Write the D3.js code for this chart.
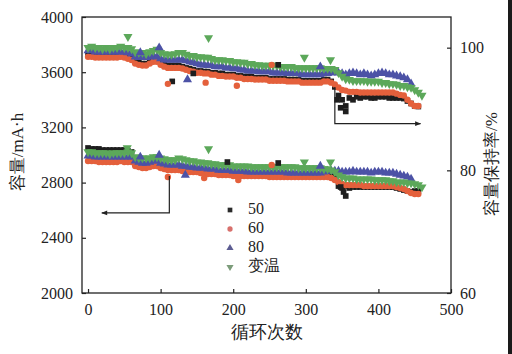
<!DOCTYPE html>
<html>
<head>
<meta charset="utf-8">
<script src="https://cdn.jsdelivr.net/npm/d3@7"></script>
<style>
  html, body { margin: 0; padding: 0; background: #fff; }
  svg { display: block; }
</style>
</head>
<body>
<svg id="chart" width="512" height="354"></svg>
<script>
// ---------------- DATA ----------------
const seriesNames = ["50", "60", "80", "变温"];
const xTicks = [0, 100, 200, 300, 400, 500];
const leftTicks = [2000, 2400, 2800, 3200, 3600, 4000];
const rightTicks = [60, 80, 100];

// cycle numbers (every 5th cycle)
const cycles = [0,5,10,15,20,25,30,35,40,45,50,55,60,65,70,75,80,85,90,95,100,105,110,115,120,125,130,135,140,145,150,155,160,165,170,175,180,185,190,195,200,205,210,215,220,225,230,235,240,245,250,255,260,265,270,275,280,285,290,295,300,305,310,315,320,325,330,335,340,345,350,355,360,365,370,375,380,385,390,395,400,405,410,415,420,425,430,435,440,445,450,455,460];

// capacity retention (%), right axis
const ret50 = [99.0,99.0,98.9,98.9,98.9,98.9,98.9,98.9,98.9,99.0,98.9,98.7,98.5,
  97.7,97.6,97.4,97.4,97.7,98.0,98.0,97.6,97.2,97.1,97.1,97.1,97.1,96.9,96.7,96.6,96.4,96.2,96.2,96.1,
  96.1,95.9,95.9,95.8,95.8,95.6,95.6,95.6,95.4,95.4,95.3,95.3,95.3,95.1,95.1,95.1,95.1,94.9,94.9,94.9,
  94.9,94.9,94.8,94.8,94.8,94.8,94.6,94.6,94.6,94.6,94.6,94.6,94.8,94.8,94.5,93.6,
  92.2,91.5,90.5,91.8,91.5,92.0,91.8,92.0,92.0,91.8,91.8,92.0,92.0,92.0,91.8,91.8,91.8,91.8,91.7,91.3,90.9,90.5,90.4];
const ret60 = [98.5,98.5,98.4,98.4,98.4,98.4,98.4,98.4,98.4,98.5,98.4,98.2,98.0,
  97.4,97.2,97.1,97.1,97.4,97.7,97.7,97.2,96.9,96.7,96.7,96.7,96.7,96.6,96.4,96.2,96.1,95.9,95.9,95.8,
  95.8,95.6,95.6,95.4,95.4,95.3,95.3,95.3,95.1,95.1,94.9,94.9,94.9,94.8,94.8,94.8,94.8,94.6,94.6,94.6,
  94.6,94.6,94.5,94.5,94.5,94.5,94.3,94.3,94.3,94.3,94.3,94.3,94.5,94.5,94.3,94.0,
  93.5,93.1,93.0,92.8,92.8,92.8,92.7,92.7,92.7,92.7,92.7,92.7,92.7,92.7,92.7,92.7,92.5,92.3,92.2,91.5,90.9,90.5,90.5];
const ret80 = [99.5,99.5,99.3,99.3,99.3,99.3,99.3,99.3,99.3,99.3,99.3,99.2,99.0,
  98.5,98.4,98.4,98.4,98.5,98.7,98.5,98.2,98.0,98.0,98.0,98.0,98.0,98.0,97.9,97.7,97.6,97.4,97.2,97.2,
  97.1,97.1,96.9,96.9,96.9,96.7,96.7,96.6,96.6,96.4,96.4,96.2,96.2,96.2,96.1,96.1,96.1,96.1,95.9,95.9,
  95.9,95.9,95.8,95.8,95.8,95.8,95.6,95.6,95.6,95.6,95.6,95.6,95.8,95.8,95.9,96.1,
  95.9,95.8,95.6,95.8,95.9,95.8,95.6,95.8,95.6,95.4,95.6,95.8,95.9,95.8,95.6,95.6,95.4,95.3,95.1,94.8,94.1];
const retVar = [100.0,100.2,100.0,100.0,99.8,100.0,99.8,100.0,100.0,100.2,100.0,100.0,99.8,
  99.3,99.2,99.2,99.0,99.3,99.5,99.7,99.2,99.0,98.9,98.9,99.0,99.2,99.2,98.9,98.7,98.7,98.5,98.5,98.4,
  98.4,98.2,98.0,98.0,98.0,97.9,97.9,97.7,97.7,97.6,97.6,97.4,97.4,97.2,97.2,97.1,97.1,97.1,97.1,97.1,
  96.9,96.9,96.9,96.9,96.7,96.7,96.7,96.7,96.7,96.7,96.7,96.7,96.6,96.6,96.6,96.4,
  95.9,95.3,94.9,94.8,94.6,94.6,94.6,94.6,94.5,94.5,94.5,94.5,94.3,94.3,94.1,94.1,94.0,93.8,93.8,93.6,93.5,93.1,92.7,92.2];

// capacity (mA·h), left axis
const cap50 = [3051,3044,3044,3044,3036,3036,3036,3036,3036,3036,3036,3029,3022,
  2935,2928,2920,2920,2928,2935,2935,2920,2913,2906,2906,2906,2906,2899,2899,2891,2891,2891,2884,2884,
  2877,2877,2877,2870,2870,2870,2870,2862,2862,2862,2862,2862,2862,2862,2862,2862,2862,2855,2855,2855,
  2855,2855,2855,2855,2855,2855,2855,2855,2855,2855,2855,2855,2855,2855,2848,2833,
  2775,2761,2775,2761,2768,2768,2768,2768,2768,2768,2768,2768,2768,2768,2768,2768,2761,2754,2746,2739,2732,2739,2739];
const cap60 = [2957,2957,2957,2949,2949,2949,2949,2949,2949,2957,2949,2949,2949,
  2920,2913,2906,2906,2913,2920,2920,2906,2899,2891,2891,2891,2891,2884,2884,2877,2877,2877,2870,2870,
  2862,2862,2862,2855,2855,2855,2855,2848,2848,2848,2848,2848,2848,2848,2848,2848,2848,2841,2841,2841,
  2841,2841,2841,2841,2841,2841,2841,2841,2841,2841,2841,2841,2841,2841,2833,2819,
  2804,2790,2783,2783,2783,2783,2783,2775,2775,2775,2775,2775,2775,2775,2775,2775,2768,2761,2754,2739,2725,2717,2717];
const cap80 = [2993,2993,2986,2986,2986,2986,2986,2986,2986,2986,2986,2986,2986,
  2957,2949,2942,2942,2949,2957,2957,2942,2935,2928,2928,2928,2928,2920,2920,2913,2913,2906,2906,2906,
  2899,2899,2899,2891,2891,2891,2891,2884,2884,2884,2884,2877,2877,2877,2877,2877,2877,2877,2877,2877,
  2877,2877,2870,2870,2870,2870,2870,2870,2870,2870,2870,2870,2877,2884,2884,2884,
  2884,2877,2877,2877,2884,2877,2877,2877,2877,2870,2877,2877,2877,2870,2870,2870,2862,2855,2848,2841,2826];
const capVar = [3022,3022,3015,3015,3015,3015,3007,3015,3015,3015,3015,3022,3015,
  2986,2978,2978,2978,2978,2986,2986,2978,2971,2964,2964,2964,2978,2971,2964,2957,2957,2949,2949,2942,
  2942,2935,2935,2928,2928,2928,2928,2920,2920,2920,2920,2920,2913,2913,2913,2913,2913,2913,2913,2913,
  2913,2913,2913,2913,2913,2906,2906,2906,2906,2906,2906,2906,2899,2899,2891,2877,
  2855,2841,2833,2833,2833,2826,2826,2826,2826,2826,2819,2819,2819,2819,2812,2812,2804,2804,2804,2797,2797,2790,2783,2768];

// scattered outlier points [cycle, value]
const ret50Extra = [[116,94.5],[145,95.8],[262,97.2],[343,91.5],[348,90.2],[355,89.6]];
const ret60Extra = [[110,94.1],[162,94.3],[205,93.8],[253,97.2]];
const ret80Extra = [[72,99.2],[98,100.0],[137,94.8],[320,96.9]];
const retVarExtra = [[55,101.8],[166,101.6],[298,98.4],[334,98.0]];
const cap50Extra = [[192,2949],[262,2942],[348,2768],[352,2732],[355,2703]];
const cap60Extra = [[110,2841],[160,2833],[207,2819],[253,2928]];
const cap80Extra = [[72,2986],[98,3000],[134,2855],[320,2920]];
const capVarExtra = [[54,3051],[166,3044],[298,2949],[334,2949]];

// annotation arrows: [cycle, value] corner points
const retArrow = [[340,93.6],[340,87.6],[458,87.6]];
const capArrow = [[112,2848],[112,2580],[19,2580]];

// ---------------- CHART ----------------
const svg = d3.select("#chart");
const W = 512, H = 354;
const L = 82, R = 451, T = 17, B = 293;
const FONT = "Liberation Serif";

const x = d3.scaleLinear().domain([-8.3, 500]).range([L, R]);
const yL = d3.scaleLinear().domain([2000, 4000]).range([B, T]);
const yR = d3.scaleLinear().domain([60, 105]).range([B, T]);

const colors = { "50": "#1e1e1e", "60": "#e4603c", "80": "#4c52a6", "变温": "#5ca85a" };
const legendColors = { "50": "#2a2a2a", "60": "#d8706c", "80": "#5c5c92", "变温": "#7c9c7a" };
const shapes = {
  "50": d3.symbol().type(d3.symbolSquare).size(32),
  "60": d3.symbol().type(d3.symbolCircle).size(32),
  "80": d3.symbol().type(d3.symbolTriangle).size(36),
  "变温": d3.symbol().type(d3.symbolTriangle).size(36)
};
const rot = name => name === "变温" ? " rotate(180)" : "";

svg.append("rect").attr("width", W).attr("height", H).attr("fill", "#fff");
svg.append("rect").attr("x", 508).attr("y", 0).attr("width", 4).attr("height", H).attr("fill", "#1a1a1a");

const plot = svg.append("g");

function drawSeries(name, vals, extra, yScale) {
  const pts = vals.map((v, i) => [cycles[i], v]).concat(extra);
  plot.append("g").selectAll("path").data(pts).join("path")
    .attr("d", shapes[name]())
    .attr("transform", d => `translate(${x(d[0])},${yScale(d[1])})${rot(name)}`)
    .attr("fill", colors[name]);
}

// draw order: 50, 60, 80, 变温
const lowerSets = [["50", cap50, cap50Extra], ["60", cap60, cap60Extra], ["80", cap80, cap80Extra], ["变温", capVar, capVarExtra]];
const upperSets = [["50", ret50, ret50Extra], ["60", ret60, ret60Extra], ["80", ret80, ret80Extra], ["变温", retVar, retVarExtra]];
lowerSets.forEach(s => drawSeries(s[0], s[1], [], yL));
upperSets.forEach(s => drawSeries(s[0], s[1], [], yR));
lowerSets.forEach(s => drawSeries(s[0], [], s[2], yL));
upperSets.forEach(s => drawSeries(s[0], [], s[2], yR));

// arrows
const defs = svg.append("defs");
defs.append("marker").attr("id", "ah").attr("viewBox", "0 0 10 10")
  .attr("refX", 9).attr("refY", 5).attr("markerWidth", 8).attr("markerHeight", 6)
  .attr("markerUnits", "userSpaceOnUse").attr("orient", "auto")
  .append("path").attr("d", "M0,1 L10,5 L0,9 Z").attr("fill", "#222");

const lineR = d3.line().x(d => x(d[0])).y(d => yR(d[1]));
const lineL = d3.line().x(d => x(d[0])).y(d => yL(d[1]));
svg.append("path").attr("d", lineR(retArrow)).attr("fill", "none").attr("stroke", "#222")
  .attr("stroke-width", 1.2).attr("marker-end", "url(#ah)");
svg.append("path").attr("d", lineL(capArrow)).attr("fill", "none").attr("stroke", "#222")
  .attr("stroke-width", 1.2).attr("marker-end", "url(#ah)");

// axes
const fmt = d3.format("d");
const gx = svg.append("g").attr("transform", `translate(0,${B})`)
  .call(d3.axisBottom(x).tickValues(xTicks).tickFormat(fmt).tickSizeInner(-4).tickSizeOuter(0).tickPadding(11));
const gl = svg.append("g").attr("transform", `translate(${L},0)`)
  .call(d3.axisLeft(yL).tickValues(leftTicks).tickFormat(fmt).tickSizeInner(-4).tickSizeOuter(0).tickPadding(9));
const gr = svg.append("g").attr("transform", `translate(${R},0)`)
  .call(d3.axisRight(yR).tickValues(rightTicks).tickFormat(fmt).tickSizeInner(-4).tickSizeOuter(0).tickPadding(9));
[gx, gl, gr].forEach(g => {
  g.attr("font-family", FONT).attr("font-size", 16);
  g.select(".domain").remove();
  g.selectAll(".tick line").attr("stroke", "#222").attr("stroke-width", 1.2);
  g.selectAll(".tick text").attr("fill", "#222");
});

// frame
svg.append("rect").attr("x", L).attr("y", T).attr("width", R - L).attr("height", B - T)
  .attr("fill", "none").attr("stroke", "#222").attr("stroke-width", 1.3);

// axis titles
function title(tr, txt, size) {
  return svg.append("text").attr("transform", tr)
    .attr("text-anchor", "middle").attr("dominant-baseline", "middle")
    .attr("font-family", FONT).attr("font-size", size).attr("fill", "#222").text(txt);
}
title("translate(19,152) rotate(-90)", "容量/mA·h", 17);
title("translate(493,164) rotate(-90)", "容量保持率/%", 17);
title("translate(267,334)", "循环次数", 18);

// legend
const lg = svg.append("g");
const legendY = [210, 229, 248, 267];
seriesNames.forEach((name, i) => {
  lg.append("path").attr("d", d3.symbol().type(name === "60" ? d3.symbolCircle : (name === "50" ? d3.symbolSquare : d3.symbolTriangle)).size(22)())
    .attr("transform", `translate(230,${legendY[i]})${rot(name)}`)
    .attr("fill", legendColors[name]);
  lg.append("text").attr("x", 248).attr("y", legendY[i]).attr("dominant-baseline", "middle")
    .attr("font-family", FONT).attr("font-size", 16).attr("fill", "#222").text(name);
});
</script>
</body>
</html>
